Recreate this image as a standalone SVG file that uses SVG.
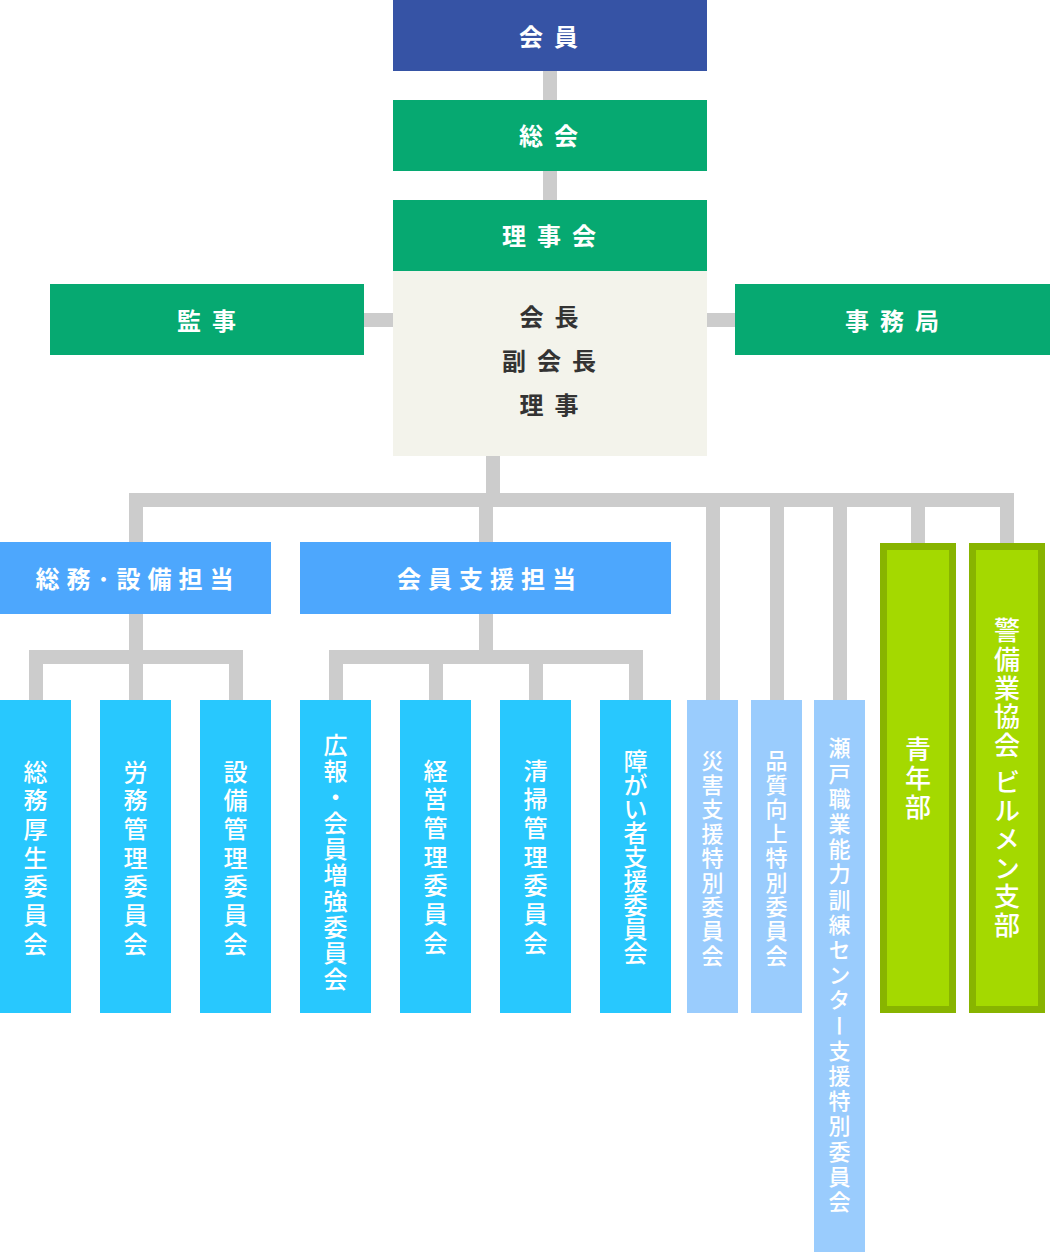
<svg xmlns="http://www.w3.org/2000/svg" width="1050" height="1252" viewBox="0 0 1050 1252">
<style>
text{font-family:"Noto Sans CJK JP","Noto Sans CJK SC",sans-serif;font-weight:700;}
.h{font-size:24px;fill:#fff;text-anchor:middle;letter-spacing:11px;}
.d{font-size:24px;fill:#333;text-anchor:middle;letter-spacing:11px;}
.hb{font-size:24px;fill:#fff;text-anchor:middle;letter-spacing:7px;}
.v{font-size:24px;fill:#fff;text-anchor:middle;writing-mode:vertical-rl;font-weight:500;}
.vs{font-size:22px;fill:#fff;text-anchor:middle;writing-mode:vertical-rl;font-weight:500;}
.vg{font-size:26px;fill:#fff;text-anchor:middle;writing-mode:vertical-rl;font-weight:500;}
.navy{fill:#3653a5;}
.grn{fill:#06a971;}
.beige{fill:#f3f3eb;}
.blue{fill:#4da7fd;}
.sky{fill:#28c8fe;}
.lsky{fill:#9accfd;}
.lime{fill:#a4d900;stroke:#88b400;stroke-width:7;}
#connectors path{fill:none;stroke:#cccccc;stroke-width:14;stroke-linejoin:miter;stroke-linecap:butt;}
</style>
<g id="connectors">
<path d="M550,71V100"/>
<path d="M550,171V200"/>
<path d="M364,320H393"/>
<path d="M707,320H735"/>
<path d="M493,456V500"/>
<path d="M136,542V500H1007V543"/>
<path d="M486,500V542"/>
<path d="M713,500V700"/>
<path d="M777,500V700"/>
<path d="M840,500V700"/>
<path d="M918,500V543"/>
<path d="M136,614V700"/>
<path d="M36,700V657H236V700"/>
<path d="M486,614V657"/>
<path d="M336,700V657H636V700"/>
<path d="M436,657V700"/>
<path d="M536,657V700"/>
</g>
<g id="kaiin"><rect class="navy" x="393" y="0" width="314" height="71"/><text class="h" x="554" y="45.5">会員</text></g>
<g id="soukai"><rect class="grn" x="393" y="100" width="314" height="71"/><text class="h" x="554" y="144.5">総会</text></g>
<g id="rijikai"><rect class="grn" x="393" y="200" width="314" height="71"/><text class="h" x="554.5" y="244.5">理事会</text></g>
<g id="officers"><rect class="beige" x="393" y="271" width="314" height="185"/>
<text class="d" x="554.5" y="325.5">会長</text>
<text class="d" x="554.5" y="369.5">副会長</text>
<text class="d" x="554.5" y="413.5">理事</text></g>
<g id="kanji"><rect class="grn" x="50" y="284" width="314" height="71"/><text class="h" x="212" y="329.5">監事</text></g>
<g id="jimukyoku"><rect class="grn" x="735" y="284" width="315" height="71"/><text class="h" x="897.5" y="330">事務局</text></g>
<g id="soumu-setsubi"><rect class="blue" x="0" y="542" width="271" height="72"/><text class="hb" x="138" y="587.5">総務･設備担当</text></g>
<g id="kaiin-shien"><rect class="blue" x="300" y="542" width="371" height="72"/><text class="hb" x="490" y="587.5">会員支援担当</text></g>
<g id="c1"><rect class="sky" x="0" y="700" width="71" height="313"/><text class="v" x="35.5" y="860" style="letter-spacing:4.7px">総務厚生委員会</text></g>
<g id="c2"><rect class="sky" x="100" y="700" width="71" height="313"/><text class="v" x="135.5" y="860" style="letter-spacing:4.7px">労務管理委員会</text></g>
<g id="c3"><rect class="sky" x="200" y="700" width="71" height="313"/><text class="v" x="235.5" y="860" style="letter-spacing:4.7px">設備管理委員会</text></g>
<g id="c4"><rect class="sky" x="300" y="700" width="71" height="313"/><text class="v" x="335.5" y="862.5" style="letter-spacing:2px">広報・会員増強委員会</text></g>
<g id="c5"><rect class="sky" x="400" y="700" width="71" height="313"/><text class="v" x="435.5" y="859" style="letter-spacing:4.7px">経営管理委員会</text></g>
<g id="c6"><rect class="sky" x="500" y="700" width="71" height="313"/><text class="v" x="535.5" y="859" style="letter-spacing:4.7px">清掃管理委員会</text></g>
<g id="c7"><rect class="sky" x="600" y="700" width="71" height="313"/><text class="v" x="635.5" y="857" style="letter-spacing:0px">障がい者支援委員会</text></g>
<g id="s1"><rect class="lsky" x="687" y="700" width="51" height="313"/><text class="vs" x="712.5" y="859" style="letter-spacing:2.4px">災害支援特別委員会</text></g>
<g id="s2"><rect class="lsky" x="751" y="700" width="51" height="313"/><text class="vs" x="776.5" y="859" style="letter-spacing:2.4px">品質向上特別委員会</text></g>
<g id="s3"><rect class="lsky" x="814" y="700" width="51" height="552"/><text class="vs" x="839.5" y="976.5" style="letter-spacing:3.2px">瀬戸職業能力訓練センター支援特別委員会</text></g>
<g id="seinenbu"><rect class="lime" x="883.5" y="546.5" width="69" height="463"/><text class="vg" x="918" y="780" style="letter-spacing:3px">青年部</text></g>
<g id="birumen"><rect class="lime" x="972.5" y="546.5" width="69" height="463"/><text class="vg" x="1007" y="779" style="letter-spacing:2.6px">警備業協会 ビルメン支部</text></g>
</svg>
